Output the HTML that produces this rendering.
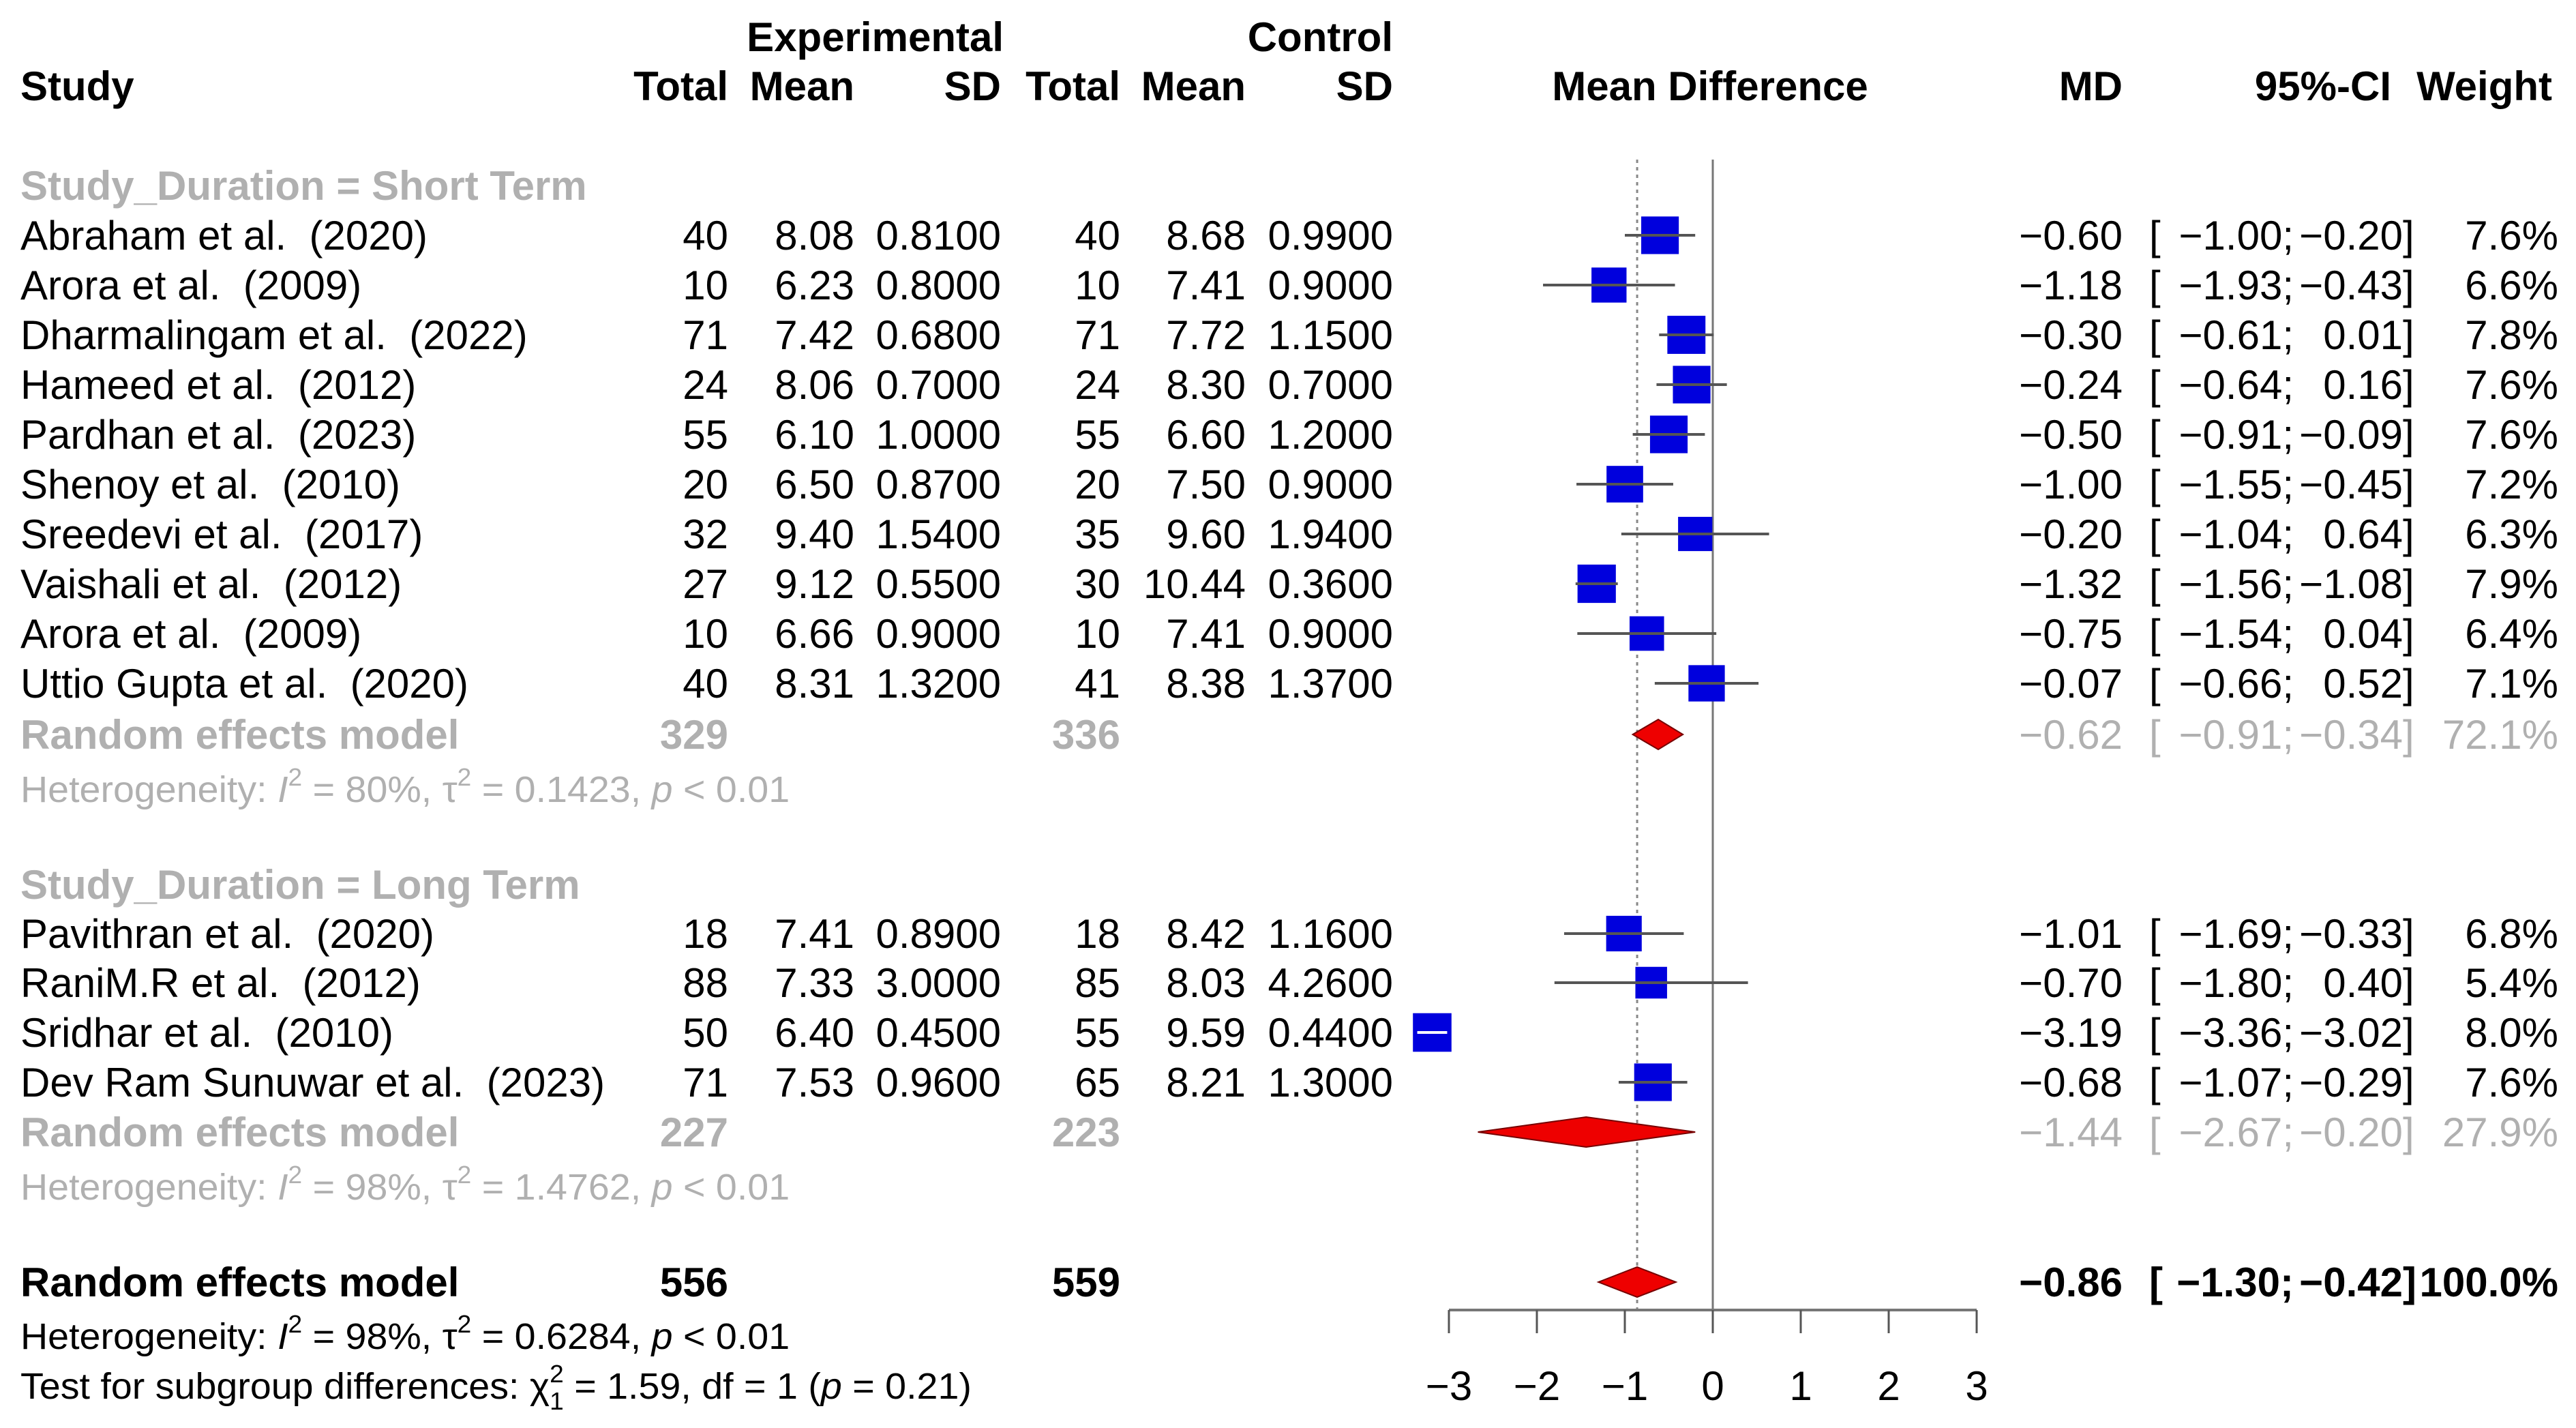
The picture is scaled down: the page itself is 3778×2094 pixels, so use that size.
<!DOCTYPE html>
<html><head><meta charset="utf-8"><style>
html,body{margin:0;padding:0;background:#fff;}
svg{display:block;font-family:"Liberation Sans",Arial,sans-serif;}
text{white-space:pre;}
</style></head><body>
<svg id="c" width="3778" height="2094" viewBox="0 0 3778 2094" xmlns="http://www.w3.org/2000/svg" xml:space="preserve"></svg>
<script>
const studies=["Abraham et al.  (2020)","Arora et al.  (2009)","Dharmalingam et al.  (2022)","Hameed et al.  (2012)","Pardhan et al.  (2023)","Shenoy et al.  (2010)","Sreedevi et al.  (2017)","Vaishali et al.  (2012)","Arora et al.  (2009)","Uttio Gupta et al.  (2020)","Pavithran et al.  (2020)","RaniM.R et al.  (2012)","Sridhar et al.  (2010)","Dev Ram Sunuwar et al.  (2023)"];
const groupOf=[0,0,0,0,0,0,0,0,0,0,1,1,1,1];
const expTotal=[40,10,71,24,55,20,32,27,10,40,18,88,50,71];
const expMean=["8.08","6.23","7.42","8.06","6.10","6.50","9.40","9.12","6.66","8.31","7.41","7.33","6.40","7.53"];
const expSD=["0.8100","0.8000","0.6800","0.7000","1.0000","0.8700","1.5400","0.5500","0.9000","1.3200","0.8900","3.0000","0.4500","0.9600"];
const ctlTotal=[40,10,71,24,55,20,35,30,10,41,18,85,55,65];
const ctlMean=["8.68","7.41","7.72","8.30","6.60","7.50","9.60","10.44","7.41","8.38","8.42","8.03","9.59","8.21"];
const ctlSD=["0.9900","0.9000","1.1500","0.7000","1.2000","0.9000","1.9400","0.3600","0.9000","1.3700","1.1600","4.2600","0.4400","1.3000"];
const md=[-0.60,-1.18,-0.30,-0.24,-0.50,-1.00,-0.20,-1.32,-0.75,-0.07,-1.01,-0.70,-3.19,-0.68];
const lo=[-1.00,-1.93,-0.61,-0.64,-0.91,-1.55,-1.04,-1.56,-1.54,-0.66,-1.69,-1.80,-3.36,-1.07];
const hi=[-0.20,-0.43,0.01,0.16,-0.09,-0.45,0.64,-1.08,0.04,0.52,-0.33,0.40,-3.02,-0.29];
const weight=[7.6,6.6,7.8,7.6,7.6,7.2,6.3,7.9,6.4,7.1,6.8,5.4,8.0,7.6];
const groupNames=["Study_Duration = Short Term","Study_Duration = Long Term"];
const groupExpN=[329,227], groupCtlN=[336,223];
const groupMD=[-0.62,-1.44], groupLo=[-0.91,-2.67], groupHi=[-0.34,-0.20], groupW=[72.1,27.9];
const groupHet=[["80%","0.1423"],["98%","1.4762"]];
const overall={n1:556,n2:559,md:-0.86,lo:-1.30,hi:-0.42,w:100.0,i2:"98%",tau2:"0.6284"};
const ticks=[-3,-2,-1,0,1,2,3];

const S=document.getElementById('c');
const NS="http://www.w3.org/2000/svg";
const SX=1.0;
const X=v=>2512+v*129;
const GREY='#b0b0b0';
function fmt(v){return (v<0?"\u2212":"")+Math.abs(v).toFixed(2);}
function el(tag,a,name){const e=document.createElementNS(NS,tag);for(const k in a)e.setAttribute(k,a[k]);


S.appendChild(e);return e;}
function txt(x,y,s,anchor,name,o){o=o||{};const e=el('text',{transform:`translate(${x},${y}) scale(${o.sx||SX},1)`,'text-anchor':anchor||'start','font-size':o.fs||60,fill:o.fill||'#000','font-weight':o.bold?'bold':'normal'},name);
if(o.html)e.innerHTML=s;else e.textContent=s;return e;}

txt(1472,75,"Experimental","end","header-experimental",{bold:1});
txt(2043,75,"Control","end","header-control",{bold:1});
txt(30,147,"Study","start","header-study",{bold:1});
[[1068,"Total"],[1253,"Mean"],[1468,"SD"],[1643,"Total"],[1827,"Mean"],[2043,"SD"]].forEach((h,i)=>txt(h[0],147,h[1],"end","header-col-"+i,{bold:1}));
txt(2508,147,"Mean Difference","middle","header-mean-difference",{bold:1});
txt(3113,147,"MD","end","header-md",{bold:1});
txt(3507,147,"95%-CI","end","header-ci",{bold:1});
txt(3743,147,"Weight","end","header-weight",{bold:1});

const colR=[1068,1253,1468,1643,1827,2043];
function ciText(y,m,l,h,w,name,o){
  txt(3113,y,fmt(m),"end",name+"-md",o);
  txt(3152,y,"[","start",name+"-ci-open",o);
  txt(3364,y,fmt(l)+";","end",name+"-ci-lo",o);
  txt(3524,y,fmt(h),"end",name+"-ci-hi",o);
  txt(3524,y,"]","start",name+"-ci-close",o);
  txt(3752,y,w.toFixed(1)+"%","end",name+"-weight",o);
}
function diamond(y,m,l,h,name){
  el('polygon',{points:`${X(l)},${y} ${X(m)},${y-22} ${X(h)},${y} ${X(m)},${y+22}`,fill:'#ee0000',stroke:'#700','stroke-width':2},name);
}
const rowY=[345,418,491,564,637,710,783,856,929,1002,1369,1441,1514,1587];
const grpY=[272,1297], reY=[1077,1660], hetY=[1157,1740];
el('line',{x1:X(0),y1:234,x2:X(0),y2:1921,stroke:'#777','stroke-width':3},"null-effect-line");
el('line',{x1:X(overall.md),y1:234,x2:X(overall.md),y2:1921,stroke:'#888','stroke-width':3,'stroke-dasharray':'5,6'},"overall-effect-dashed-line");

const B=21;
for(let g=0;g<2;g++){
  txt(30,grpY[g]+B,groupNames[g],"start","subgroup-title-"+g,{bold:1,fill:GREY});
}
studies.forEach((s,i)=>{
  const y=rowY[i];
  txt(30,y+B,s,"start","study-name-"+i);
  [expTotal[i],expMean[i],expSD[i],ctlTotal[i],ctlMean[i],ctlSD[i]].forEach((v,j)=>txt(colR[j],y+B,String(v),"end","study-"+i+"-col-"+j));
  ciText(y+B,md[i],lo[i],hi[i],weight[i],"study-"+i);
  const sz=20*Math.sqrt(weight[i]);
  el('rect',{x:X(md[i])-sz/2,y:y-sz/2,width:sz,height:sz,fill:'#0000dd'},"effect-square-"+i);
  el('line',{x1:X(lo[i]),y1:y,x2:X(hi[i]),y2:y,stroke:(hi[i]-lo[i])*129<sz?'#fff':'#555','stroke-width':4},"ci-whisker-"+i);
});
function het(y,i2,tau,fill,name){
  txt(30,y,`Heterogeneity: <tspan font-style="italic">I</tspan><tspan dy="-24" font-size="36">2</tspan><tspan dy="24"> = ${i2}, τ</tspan><tspan dy="-24" font-size="36">2</tspan><tspan dy="24"> = ${tau}, </tspan><tspan font-style="italic">p</tspan> &lt; 0.01`,"start",name,{fs:54,fill:fill,html:1,sx:1.03});
}
for(let g=0;g<2;g++){
  const o={bold:1,fill:GREY};
  txt(30,reY[g]+B,"Random effects model","start","subgroup-re-label-"+g,o);
  txt(1068,reY[g]+B,String(groupExpN[g]),"end","subgroup-exp-n-"+g,o);
  txt(1643,reY[g]+B,String(groupCtlN[g]),"end","subgroup-ctl-n-"+g,o);
  ciText(reY[g]+B,groupMD[g],groupLo[g],groupHi[g],groupW[g],"subgroup-"+g,{fill:GREY});
  diamond(reY[g],groupMD[g],groupLo[g],groupHi[g],"subgroup-diamond-"+g);
  het(hetY[g]+19,groupHet[g][0],groupHet[g][1],GREY,"subgroup-heterogeneity-"+g);
}
const oy=1880;
txt(30,oy+B,"Random effects model","start","overall-re-label",{bold:1});
txt(1068,oy+B,String(overall.n1),"end","overall-exp-n",{bold:1});
txt(1643,oy+B,String(overall.n2),"end","overall-ctl-n",{bold:1});
ciText(oy+B,overall.md,overall.lo,overall.hi,overall.w,"overall",{bold:1});
diamond(oy,overall.md,overall.lo,overall.hi,"overall-diamond");
het(1978,overall.i2,overall.tau2,'#000',"overall-heterogeneity");
txt(30,2051,`Test for subgroup differences: χ<tspan dy="-24" font-size="36">2</tspan><tspan dx="-20" dy="40" font-size="36">1</tspan><tspan dy="-16"> = 1.59, df = 1 (</tspan><tspan font-style="italic">p</tspan> = 0.21)`,"start","subgroup-difference-test",{fs:54,html:1,sx:1.03});
el('line',{x1:X(ticks[0]),y1:1921,x2:X(ticks[ticks.length-1]),y2:1921,stroke:'#777','stroke-width':4},"x-axis-line");
ticks.forEach((t,i)=>{
  el('line',{x1:X(t),y1:1921,x2:X(t),y2:1955,stroke:'#555','stroke-width':3},"x-tick-"+i);
  txt(X(t),2053,(t<0?"\u2212":"")+Math.abs(t),"middle","x-tick-label-"+i);
});
</script>
</body></html>
